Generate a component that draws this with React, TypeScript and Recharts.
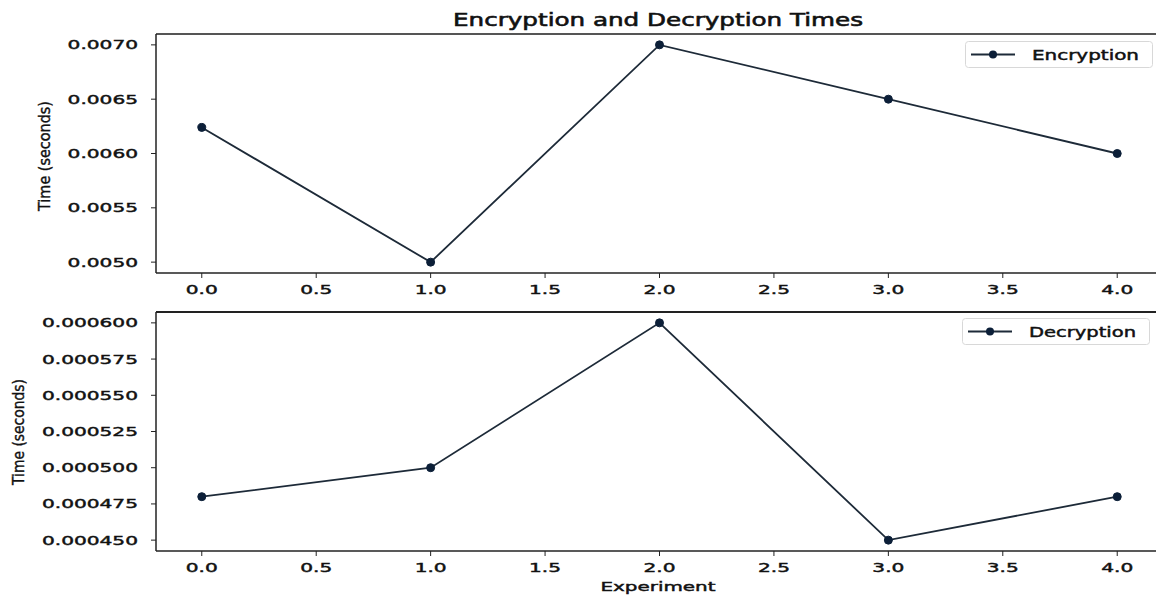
import { LineChart, Line, XAxis, YAxis, Legend, ReferenceLine } from "recharts";

const experiments = [0, 1, 2, 3, 4];
const encryptionTimes = [0.00624, 0.005, 0.007, 0.0065, 0.006];
const decryptionTimes = [0.00048, 0.0005, 0.0006, 0.00045, 0.00048];

const xTicks = [0, 0.5, 1, 1.5, 2, 2.5, 3, 3.5, 4];
const encTicks = [0.005, 0.0055, 0.006, 0.0065, 0.007];
const decTicks = [0.00045, 0.000475, 0.0005, 0.000525, 0.00055, 0.000575, 0.0006];
const encDomain = [0.0049, 0.0071];
const decDomain = [0.0004425, 0.0006075];

const encData = experiments.map((x, i) => ({ x, encryption: encryptionTimes[i] }));
const decData = experiments.map((x, i) => ({ x, decryption: decryptionTimes[i] }));

const FONT = "'DejaVu Sans', Verdana, sans-serif";
const INK = "#111";
const LINE = "#1d2a38";
const DOT = "#0c1f38";
const SX = 1.55;

// matplotlib-ish text, a bit heavy like the blurry source
const heavy = { stroke: INK, strokeWidth: 0.45 };

const XTick = (props: any) => {
  const { x, y, payload } = props;
  return (
    <text
      transform={`translate(${x},${y + 14}) scale(${SX},1)`}
      textAnchor="middle"
      fontSize={13}
      fontFamily={FONT}
      fill={INK}
      {...heavy}
    >
      {Number(payload.value).toFixed(1)}
    </text>
  );
};

const makeYTick = (digits: number) => (props: any) => {
  const { x, y, payload } = props;
  return (
    <text
      transform={`translate(${x},${y + 4.5}) scale(${SX},1)`}
      textAnchor="end"
      fontSize={13}
      fontFamily={FONT}
      fill={INK}
      {...heavy}
    >
      {Number(payload.value).toFixed(digits)}
    </text>
  );
};

const legendBox = (label: string) => () => (
  <svg width={188} height={27} style={{ display: "block" }}>
    <rect x={0.5} y={0.5} width={187} height={26} rx={3} fill="#fff" stroke="#d8d8d8" />
    <line x1={6} y1={13.5} x2={50} y2={13.5} stroke={LINE} strokeWidth={1.8} />
    <circle cx={28} cy={13.5} r={4} fill={DOT} />
    <text x={67} y={18.5} fontSize={14} fontFamily={FONT} fill={INK} {...heavy} textLength={107} lengthAdjust="spacingAndGlyphs">
      {label}
    </text>
  </svg>
);

const axisStroke = { stroke: "#222", strokeWidth: 1.5 };

export default function App() {
  return (
    <div style={{ position: "absolute", left: 0, top: 0, width: 1156, height: 597, overflow: "hidden", background: "#fff" }}>
      <div style={{ position: "absolute", left: 0, top: 0 }}>
        <LineChart width={1168} height={300} data={encData} margin={{ top: 34, right: 5, left: 0, bottom: 5 }}>
          <XAxis
            dataKey="x"
            type="number"
            domain={[-0.2, 4.2]}
            ticks={xTicks}
            height={22}
            tickSize={5}
            tickMargin={2}
            tick={<XTick />}
            axisLine={axisStroke}
            tickLine={{ stroke: "#222" }}
            allowDataOverflow
          />
          <YAxis
            type="number"
            domain={encDomain}
            ticks={encTicks}
            width={156}
            tickSize={5}
            tickMargin={13}
            tick={makeYTick(4)}
            axisLine={axisStroke}
            tickLine={{ stroke: "#222" }}
            allowDataOverflow
          />
          <ReferenceLine y={encDomain[1]} stroke="#555" strokeWidth={2.2} />
          <Legend layout="horizontal" verticalAlign="middle" align="center" content={legendBox("Encryption")} wrapperStyle={{ left: 965, top: 41, width: 188, height: 27 }} />
          <Line dataKey="encryption" stroke={LINE} strokeWidth={1.8} dot={{ r: 4, fill: DOT, stroke: DOT, strokeWidth: 1 }} isAnimationActive={false} />
        </LineChart>
      </div>
      <div style={{ position: "absolute", left: 0, top: 300 }}>
        <LineChart width={1168} height={297} data={decData} margin={{ top: 12, right: 5, left: 0, bottom: 24 }}>
          <XAxis
            dataKey="x"
            type="number"
            domain={[-0.2, 4.2]}
            ticks={xTicks}
            height={22}
            tickSize={5}
            tickMargin={2}
            tick={<XTick />}
            axisLine={axisStroke}
            tickLine={{ stroke: "#222" }}
            allowDataOverflow
          />
          <YAxis
            type="number"
            domain={decDomain}
            ticks={decTicks}
            width={156}
            tickSize={5}
            tickMargin={13}
            tick={makeYTick(6)}
            axisLine={axisStroke}
            tickLine={{ stroke: "#222" }}
            allowDataOverflow
          />
          <ReferenceLine y={decDomain[1]} stroke="#222" strokeWidth={2} />
          <Legend layout="horizontal" verticalAlign="middle" align="center" content={legendBox("Decryption")} wrapperStyle={{ left: 962, top: 18, width: 188, height: 27 }} />
          <Line dataKey="decryption" stroke={LINE} strokeWidth={1.8} dot={{ r: 4, fill: DOT, stroke: DOT, strokeWidth: 1 }} isAnimationActive={false} />
        </LineChart>
      </div>
      <svg width={1156} height={597} style={{ position: "absolute", left: 0, top: 0, pointerEvents: "none" }}>
        <text x={658} y={26} textAnchor="middle" fontSize={18} fontFamily={FONT} fill={INK} {...heavy} strokeWidth={0.6} textLength={410} lengthAdjust="spacingAndGlyphs">
          Encryption and Decryption Times
        </text>
        <text x={658} y={591} textAnchor="middle" fontSize={13} fontFamily={FONT} fill={INK} {...heavy} textLength={115} lengthAdjust="spacingAndGlyphs">
          Experiment
        </text>
        <text transform="translate(50,156) scale(1.3,1) rotate(-90)" textAnchor="middle" fontSize={12} fontFamily={FONT} fill={INK} {...heavy} strokeWidth={0.3} textLength={110} lengthAdjust="spacingAndGlyphs">
          Time (seconds)
        </text>
        <text transform="translate(24,432) scale(1.3,1) rotate(-90)" textAnchor="middle" fontSize={12} fontFamily={FONT} fill={INK} {...heavy} strokeWidth={0.3} textLength={106} lengthAdjust="spacingAndGlyphs">
          Time (seconds)
        </text>
      </svg>
    </div>
  );
}
